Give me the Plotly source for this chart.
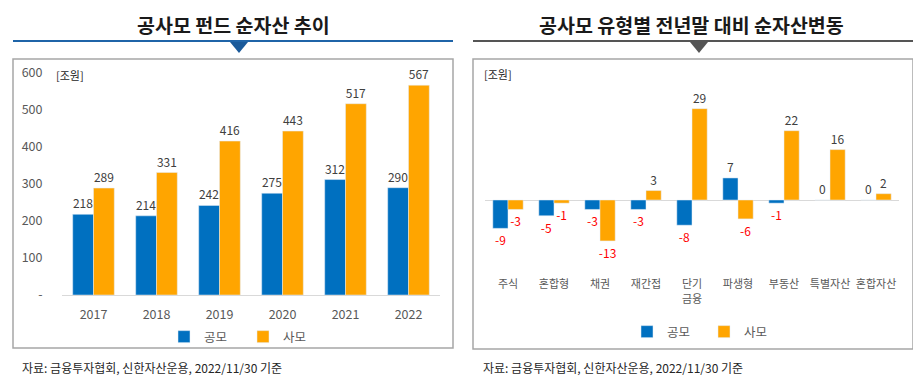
import plotly.graph_objects as go

# ---------------- data ----------------
years = ['2017', '2018', '2019', '2020', '2021', '2022']
public_nav = [218, 214, 242, 275, 312, 290]
private_nav = [289, 331, 416, 443, 517, 567]

fund_types = ['주식', '혼합형', '채권', '재간접', '단기<br>금융', '파생형', '부동산', '특별자산', '혼합자산']
public_chg = [-9, -5, -3, -3, -8, 7, -1, 0, 0]
private_chg = [-3, -1, -13, 3, 29, -6, 22, 16, 2]

left_yticks = [0, 100, 200, 300, 400, 500, 600]
left_yticktext = ['-', '100', '200', '300', '400', '500', '600']

# ---------------- style ----------------
W, H = 921, 387
OFF = 8  # page body margin offset applied by the browser
BLUE = '#0070C0'
ORANGE = '#FFA500'
LABEL = '#404040'
RED = '#FF0000'
FONT = 'Noto Sans CJK KR'


def px(x):
    return (x - OFF) / W


def py(y):
    return 1 - (y - OFF) / H


def lbl_colors(vals):
    return [RED if v < 0 else LABEL for v in vals]


fig = go.Figure()

common = dict(textposition='outside', cliponaxis=False, constraintext='none',
              textfont=dict(size=12, family=FONT), hoverinfo='x+y')

fig.add_trace(go.Bar(x=years, y=public_nav, name='공모', marker_color=BLUE,
                     text=[str(v) for v in public_nav], xaxis='x', yaxis='y',
                     legend='legend', **common))
fig.add_trace(go.Bar(x=years, y=private_nav, name='사모', marker_color=ORANGE,
                     text=[str(v) for v in private_nav], xaxis='x', yaxis='y',
                     legend='legend', **common))
for t in fig.data[:2]:
    t.textfont.color = LABEL

fig.add_trace(go.Bar(x=fund_types, y=public_chg, name='공모', marker_color=BLUE,
                     text=[str(v) for v in public_chg], xaxis='x2', yaxis='y2',
                     legend='legend2', **common))
fig.add_trace(go.Bar(x=fund_types, y=private_chg, name='사모', marker_color=ORANGE,
                     text=[str(v) for v in private_chg], xaxis='x2', yaxis='y2',
                     legend='legend2', **common))
fig.data[2].textfont.color = lbl_colors(public_chg)
fig.data[3].textfont.color = lbl_colors(private_chg)

# right chart vertical scale: zero at y=200px, 3.15 px per unit
r_top, r_bot, r_zero, ppu = 80, 272, 200, 3.15
r_range = [-(r_bot - r_zero) / ppu, (r_zero - r_top) / ppu]

fig.update_layout(
    width=W, height=H, autosize=False,
    margin=dict(l=0, r=0, t=0, b=0, pad=0, autoexpand=False),
    paper_bgcolor='white', plot_bgcolor='white',
    font=dict(family=FONT, size=12, color='#595959'),
    barmode='group', bargap=0.34, bargroupgap=0,
    xaxis=dict(domain=[px(62), px(440)], anchor='y', showline=True,
               linecolor='#D9D9D9', linewidth=1, showgrid=False, automargin=False,
               ticks='outside', ticklen=8, tickcolor='rgba(0,0,0,0)',
               tickfont=dict(size=12.5, color='#595959'), fixedrange=True),
    yaxis=dict(domain=[py(295), py(73)], anchor='x', range=[0, 600],
               tickvals=left_yticks, ticktext=left_yticktext, automargin=False,
               showgrid=False, zeroline=False, showline=False,
               ticks='outside', ticklen=16, tickcolor='rgba(0,0,0,0)',
               tickfont=dict(size=12.5, color='#595959'), fixedrange=True),
    xaxis2=dict(domain=[px(485), px(899)], anchor='y2', showline=False,
                showgrid=False, ticks='outside', ticklen=2, automargin=False,
                tickcolor='rgba(0,0,0,0)',
                tickfont=dict(size=11, color='#595959'), fixedrange=True),
    yaxis2=dict(domain=[py(r_bot), py(r_top)], anchor='x2', range=r_range,
                showgrid=False, showline=False, showticklabels=False,
                zeroline=True, zerolinecolor='#D9D9D9', zerolinewidth=1,
                automargin=False, fixedrange=True),
    legend=dict(orientation='h', x=px(164), y=py(337), xanchor='left',
                yanchor='middle', entrywidth=34, entrywidthmode='pixels',
                font=dict(size=12.5, color='#595959'), bgcolor='rgba(0,0,0,0)'),
    legend2=dict(orientation='h', x=px(627), y=py(332), xanchor='left',
                 yanchor='middle', entrywidth=32, entrywidthmode='pixels',
                 font=dict(size=12.5, color='#595959'), bgcolor='rgba(0,0,0,0)'),
    showlegend=True,
)

# ---------------- decorations ----------------
shapes = []
# left header line + triangle
shapes.append(dict(type='line', xref='paper', yref='paper', x0=px(13), x1=px(453),
                   y0=py(41), y1=py(41), line=dict(color='#1F64A8', width=2)))
shapes.append(dict(type='path', xref='paper', yref='paper',
                   path=f'M {px(230)},{py(42)} L {px(248)},{py(42)} L {px(239)},{py(53)} Z',
                   fillcolor='#1A5A9A', line=dict(width=0)))
# right header line + triangle
shapes.append(dict(type='line', xref='paper', yref='paper', x0=px(473), x1=px(913),
                   y0=py(41), y1=py(41), line=dict(color='#555555', width=2)))
shapes.append(dict(type='path', xref='paper', yref='paper',
                   path=f'M {px(690)},{py(42)} L {px(708)},{py(42)} L {px(699)},{py(53)} Z',
                   fillcolor='#555555', line=dict(width=0)))
# frames
shapes.append(dict(type='rect', xref='paper', yref='paper', x0=px(13), x1=px(453),
                   y0=py(348), y1=py(59), line=dict(color='#A6A6A6', width=1.5),
                   layer='below'))
shapes.append(dict(type='rect', xref='paper', yref='paper', x0=px(473), x1=px(913),
                   y0=py(349), y1=py(59), line=dict(color='#A6A6A6', width=1.5),
                   layer='below'))
fig.update_layout(shapes=shapes)

ann = []
ann.append(dict(text='<b>공사모 펀드 순자산 추이</b>', x=px(233), y=py(24),
                xref='paper', yref='paper', showarrow=False, xanchor='center',
                yanchor='middle', font=dict(size=19.5, color='#1A1A1A', family=FONT)))
ann.append(dict(text='<b>공사모 유형별 전년말 대비 순자산변동</b>', x=px(691), y=py(24),
                xref='paper', yref='paper', showarrow=False, xanchor='center',
                yanchor='middle', font=dict(size=19.5, color='#1A1A1A', family=FONT)))
ann.append(dict(text='[조원]', x=px(54), y=py(75), xref='paper', yref='paper',
                showarrow=False, xanchor='left', yanchor='middle',
                font=dict(size=11, color='#262626', family=FONT)))
ann.append(dict(text='[조원]', x=px(482), y=py(74), xref='paper', yref='paper',
                showarrow=False, xanchor='left', yanchor='middle',
                font=dict(size=11, color='#262626', family=FONT)))
src = '자료: 금융투자협회, 신한자산운용, 2022/11/30 기준'
ann.append(dict(text=src, x=px(20), y=py(367), xref='paper', yref='paper',
                showarrow=False, xanchor='left', yanchor='middle',
                font=dict(size=12, color='#262626', family=FONT)))
ann.append(dict(text=src, x=px(481), y=py(367), xref='paper', yref='paper',
                showarrow=False, xanchor='left', yanchor='middle',
                font=dict(size=12, color='#262626', family=FONT)))
fig.update_layout(annotations=ann)

fig.write_html('out.html')
